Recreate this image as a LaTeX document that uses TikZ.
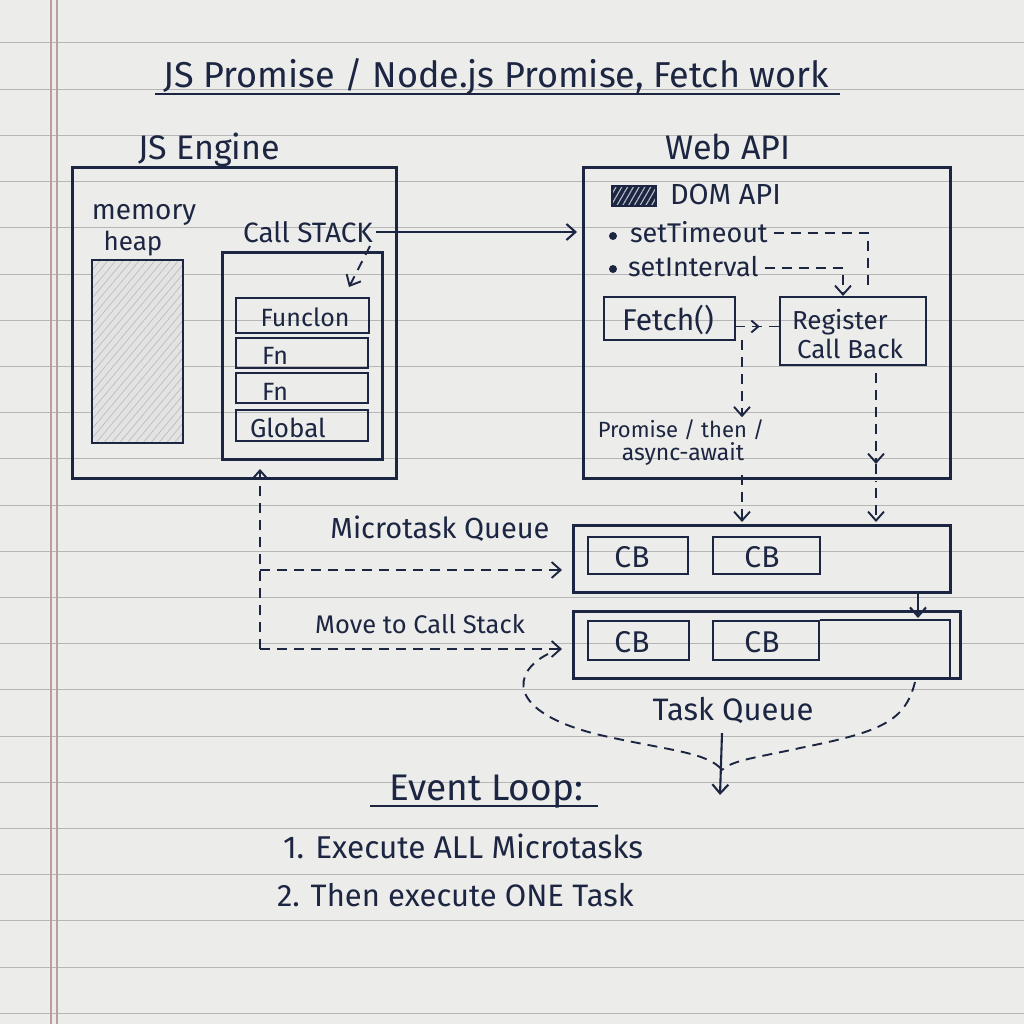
\documentclass[tikz,border=0pt]{standalone}
\usepackage{fontspec}
\setmainfont{Fira Sans}
\usetikzlibrary{arrows.meta,patterns.meta,fit,calc,decorations.markings}
\definecolor{ink}{HTML}{1C2541}
\definecolor{paper}{HTML}{ECECEA}
\definecolor{rulec}{HTML}{B6B6B6}
\definecolor{marginc}{HTML}{BC9E9E}
\newcommand{\fsz}[1]{\fontsize{#1}{#1}\selectfont}
\begin{document}
\begin{tikzpicture}[x=1pt,y=-1pt,
  box/.style={draw=ink,line width=3pt,inner sep=0pt,outer sep=0pt},
  sbox/.style={box,line width=2.6pt},
  txt/.style={text=ink,inner sep=0pt,outer sep=0pt},
  tip/.style={-{Straight Barb[length=9pt,width=16pt]}},
  arr/.style={draw=ink,line width=2.1pt,tip},
  dsh/.style={draw=ink,line width=1.9pt,dash pattern=on 10pt off 7pt},
  dasharr/.style={dsh,tip},
  midarrow/.style={postaction={decorate},decoration={markings,
     mark=at position 0.55 with {\arrow[ink,solid]{Straight Barb[length=7pt,width=12pt]}}}},
]
% paper
\fill[paper] (0,0) rectangle (1024,1024);
\useasboundingbox (0,0) rectangle (1024,1024);
\foreach \k in {0,...,21}
  \draw[rulec,line width=1pt] (0,{43+46.2*\k}) -- (1024,{43+46.2*\k});
\draw[marginc,line width=1.2pt] (51,0) -- (51,1024);
\draw[marginc,line width=1.2pt] (57,0) -- (57,1024);

% title
\node[txt,anchor=base] (title) at (496,88) {\fsz{36}JS Promise / Node.js Promise, Fetch work};
\draw[ink,line width=1.9pt] (155,94) -- (840,94);

% JS engine
\node[txt,anchor=base] (enginelbl) at (209,160) {\fsz{34}JS Engine};
\node[box,fit={(72,168) (396,478)}] (engine) {};
\node[txt,anchor=base] (mem1) at (144,220) {\fsz{28}memory};
\node[txt,anchor=base] (mem2) at (133,250) {\fsz{26}heap};
\node[sbox,preaction={fill=black!11},pattern={Lines[angle=50,distance=6pt,line width=0.6pt]},pattern color=black!28,fit={(92,260) (183,443)}] (heap) {};
\node[txt,anchor=base] (cslbl) at (308,242) {\fsz{28}Call STACK};
\node[box,fit={(222,252) (382,459)}] (stack) {};
\node[sbox,fit={(236,298) (369,333)}] (f1) {};
\node[sbox,fit={(236,338) (368,368)}] (f2) {};
\node[sbox,fit={(236,373) (368,403)}] (f3) {};
\node[sbox,fit={(236,410) (368,441)}] (f4) {};
\node[txt,anchor=base] (t1) at (305,326) {\fsz{25}Funclon};
\node[txt,anchor=base west] (t2) at (262,364) {\fsz{25}Fn};
\node[txt,anchor=base west] (t3) at (262,400) {\fsz{25}Fn};
\node[txt,anchor=base west] (t4) at (250,437) {\fsz{26}Global};

% Web API
\node[txt,anchor=base] (weblbl) at (728,160) {\fsz{34}Web API};
\node[box,fit={(583,168) (950,478)}] (webapi) {};
\node[sbox,preaction={fill=ink},pattern={Lines[angle=60,distance=5pt,line width=1.1pt]},pattern color=white!70!ink,fit={(612,186) (656,206)}] (dom) {};
\node[txt,anchor=base west] (domlbl) at (670,205) {\fsz{29}DOM API};
\node[txt,anchor=base west] (st) at (630,243) {\fsz{27}setTimeout};
\node[txt,anchor=base west] (si) at (628,276) {\fsz{27}setInterval};
\fill[ink] (613,236) circle (4);
\fill[ink] (613,269) circle (4);
\node[sbox,fit={(604,297) (735,340)}] (fetch) {};
\node[txt,anchor=base] (fetchlbl) at (668,330) {\fsz{30}Fetch()};
\node[sbox,fit={(780,297) (926,365)}] (reg) {};
\node[txt,anchor=base west] (reg1) at (792,329) {\fsz{26}Register};
\node[txt,anchor=base west] (reg2) at (797,358) {\fsz{26}Call Back};
\node[txt,anchor=base] (pr1) at (681,437) {\fsz{22}Promise / then /};
\node[txt,anchor=base] (pr2) at (683,460) {\fsz{23}async-await};

% queues
\node[txt,anchor=base] (microlbl) at (440,538) {\fsz{29}Microtask Queue};
\node[box,fit={(573,525) (950,592)}] (micro) {};
\node[sbox,fit={(588,537) (688,574)}] (mcb1) {};
\node[sbox,fit={(713,537) (820,574)}] (mcb2) {};
\node[txt,anchor=base] at (632,567) {\fsz{30}CB};
\node[txt,anchor=base] at (762,567) {\fsz{30}CB};

\node[txt,anchor=base] (movelbl) at (420,633) {\fsz{25.5}Move to Call Stack};
\node[box,fit={(573,611) (960,678)}] (task) {};
\draw[ink,line width=2.6pt] (820,620) -- (950,620) -- (950,678);
\node[sbox,fit={(588,621) (689,660)}] (tcb1) {};
\node[sbox,fit={(713,621) (819,660)}] (tcb2) {};
\node[txt,anchor=base] at (632,652) {\fsz{30}CB};
\node[txt,anchor=base] at (762,652) {\fsz{30}CB};
\node[txt,anchor=base] (tasklbl) at (733,720) {\fsz{31}Task Queue};

% event loop
\node[txt,anchor=base] (looplbl) at (486,800) {\fsz{37}Event Loop:};
\draw[ink,line width=1.9pt] (370,806) -- (598,806);
\node[txt,anchor=base west] (step1) at (283,858) {\fsz{31.5}1. Execute ALL Microtasks};
\node[txt,anchor=base west] (step2) at (277,906) {\fsz{31}2. Then execute ONE Task};

% connectors
\coordinate (colA) at (742,0);
\coordinate (colB) at (876,0);
\coordinate (colC) at (918,0);
\coordinate (colL) at (260,0);
\coordinate (mIn) at (562,570);
\coordinate (tIn) at (562,649);
\coordinate (stEnd) at (868,288);
\coordinate (siEnd) at (843,296);

\draw[arr,shorten >=6pt] ([xshift=3pt]cslbl.east |- 0,232) -- (webapi.west |- 0,232);
\draw[dasharr] (370,246) -- (349,287);
\draw[dsh] ([xshift=6pt]st.east |- 0,233) -| (stEnd);
\draw[dasharr] ([xshift=6pt]si.east |- 0,268) -| (siEnd);
\draw[dsh,midarrow] ([yshift=-8pt]fetch.east) -- ([yshift=-8pt]fetch.east -| reg.west);
\draw[dasharr] (colA |- fetch.south) -- ($(colA |- pr1.north)+(0,-2)$);
\draw[dasharr] ($(colA |- pr2.south)+(0,10)$) -- ($(colA |- micro.north)+(0,-3)$);
\draw[dasharr] ($(colB |- reg.south)+(0,8)$) -- ($(colB |- webapi.south)+(0,-14)$);
\draw[dsh] ($(colB |- webapi.south)+(0,-14)$) -- ($(colB |- webapi.south)+(0,4)$);
\draw[dasharr] ($(colB |- webapi.south)+(0,10)$) -- ($(colB |- micro.north)+(0,-3)$);
\draw[arr] (colC |- micro.south) -- ($(colC |- task.north)+(0,7)$);
\draw[dasharr] (colL |- tIn) -- ($(colL |- engine.south)+(0,-9)$);
\draw[dasharr] (colL |- mIn) -- (mIn);
\draw[dasharr] (colL |- tIn) -- (tIn);
\coordinate (meet) at (722,770);
\draw[dsh] (548,654) .. controls (512,672) and (505,712) .. (600,735) .. controls (665,750) and (708,752) .. (meet);
\draw[dsh] (915,682) .. controls (905,722) and (880,732) .. (800,748) .. controls (760,757) and (732,760) .. (meet);
\draw[arr] ($(tasklbl.south -| meet)+(0,10)$) -- (720,795);
\end{tikzpicture}
\end{document}
